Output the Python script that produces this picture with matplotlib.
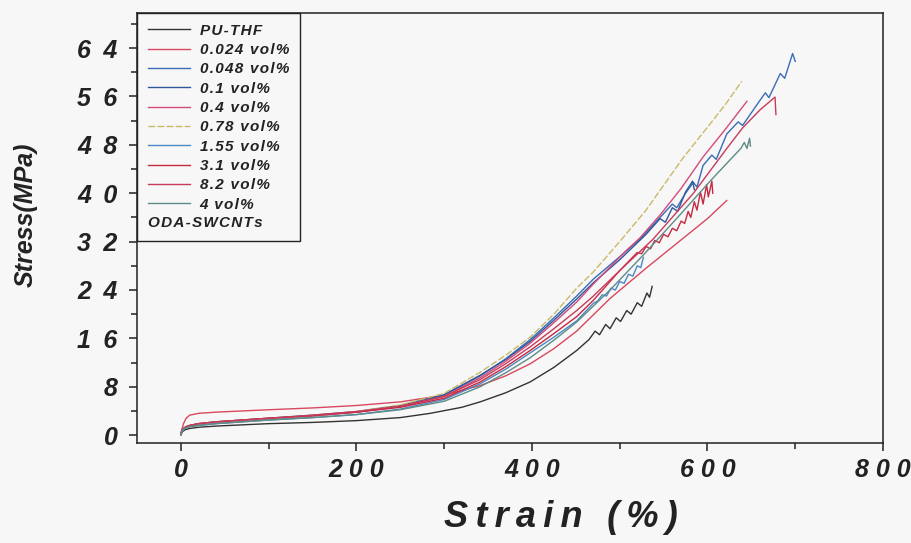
import matplotlib
matplotlib.use("Agg")
import matplotlib.pyplot as plt
from matplotlib.ticker import FixedLocator, MultipleLocator, FuncFormatter

# ---- tensile curves: strain (%) and stress (MPa) ----
labels = ["PU-THF", "0.024 vol%", "0.048 vol%", "0.1 vol%", "0.4 vol%",
          "0.78 vol%", "1.55 vol%", "3.1 vol%", "8.2 vol%", "4 vol%"]

base_strain = [0, 1, 3, 6, 10, 20, 40, 70, 100, 150, 200, 250, 300, 341, 370, 398, 425, 451]

pu_strain = [0, 2, 5, 10, 20, 40, 70, 100, 150, 200, 250, 284, 320, 341, 370, 398, 425, 451,
             465, 472, 477, 484, 489, 496, 501, 508, 513, 520, 525, 531, 534, 537]
pu_stress = [0.1, 0.6, 0.9, 1.1, 1.3, 1.5, 1.7, 1.9, 2.1, 2.4, 2.9, 3.6, 4.6, 5.5, 7.0, 8.8, 11.2, 14.0,
             15.8, 17.2, 16.6, 18.3, 17.6, 19.4, 18.8, 20.6, 20.0, 21.9, 21.3, 23.5, 22.8, 24.6]

c0024_strain = base_strain + [489, 530, 565, 600, 622]
c0024_stress = [0.1, 0.9, 1.9, 2.8, 3.3, 3.6, 3.8, 4.0, 4.2, 4.5, 4.9, 5.5, 6.6, 8.2, 9.8, 11.8, 14.3, 17.2,
                22.6, 27.6, 31.7, 35.8, 38.8]

c0048_strain = base_strain + [470, 500, 523, 546, 560, 565, 575, 584, 588, 595, 605, 610, 622, 635,
                              640, 660, 666, 670, 683, 688, 697, 700]
c0048_stress = [0.1, 0.6, 1.0, 1.3, 1.5, 1.8, 2.1, 2.4, 2.7, 3.2, 3.8, 4.8, 6.6, 9.8, 12.6, 15.8, 19.4, 23.0,
                25.8, 29.5, 32.4, 36.0, 38.2, 37.6, 40.0, 41.8, 41.0, 44.6, 46.3, 45.6, 49.8, 51.8,
                51.2, 55.4, 56.6, 55.8, 59.8, 59.0, 63.1, 61.8]

c01_strain = base_strain + [470, 500, 530, 546, 552, 560, 566, 575, 583, 585]
c01_stress = [0.1, 0.7, 1.1, 1.4, 1.6, 1.9, 2.2, 2.5, 2.8, 3.3, 3.9, 4.9, 6.7, 9.9, 12.5, 15.5, 19.0, 22.5,
              25.2, 29.0, 33.2, 35.8, 35.2, 37.6, 37.0, 40.2, 42.0, 40.6]

c04_strain = base_strain + [470, 508, 523, 546, 570, 595, 620, 645]
c04_stress = [0.1, 0.6, 1.0, 1.3, 1.5, 1.8, 2.1, 2.4, 2.7, 3.2, 3.8, 4.7, 6.4, 9.5, 12.2, 15.2, 18.6, 22.0,
              25.0, 30.6, 32.6, 36.4, 40.8, 46.0, 50.5, 55.2]

c078_strain = base_strain + [470, 500, 530, 572, 595, 620, 639]
c078_stress = [0.1, 0.6, 1.0, 1.3, 1.5, 1.8, 2.1, 2.4, 2.7, 3.2, 3.9, 5.0, 6.9, 10.4, 13.2, 16.2, 20.0, 24.3,
               27.0, 32.0, 37.2, 45.8, 50.0, 54.6, 58.5]

c155_strain = base_strain + [470, 475, 480, 485, 490, 495, 500, 505, 510, 515, 520, 524, 527]
c155_stress = [0.1, 0.6, 0.9, 1.2, 1.4, 1.6, 1.9, 2.2, 2.5, 2.9, 3.4, 4.3, 5.9, 8.5, 10.9, 13.6, 16.2, 18.9,
               21.8, 22.2, 23.2, 23.0, 24.3, 24.0, 25.4, 25.1, 26.6, 26.3, 28.0, 27.7, 29.4]

c31_strain = base_strain + [470, 500, 520, 525, 530, 535, 540, 545, 550, 555, 560, 565, 570, 574, 578,
                            581, 585, 588, 592, 595, 599, 601, 605, 606]
c31_stress = [0.1, 0.7, 1.1, 1.4, 1.6, 1.9, 2.2, 2.5, 2.8, 3.2, 3.8, 4.6, 6.1, 8.8, 11.3, 14.0, 16.8, 19.6,
              22.3, 27.2, 30.2, 30.0, 31.2, 30.8, 32.2, 31.8, 33.2, 32.8, 34.2, 33.8, 35.4, 35.0, 37.0,
              36.0, 38.6, 37.2, 40.2, 38.2, 41.4, 39.4, 42.0, 40.0]

c82_strain = base_strain + [470, 500, 538, 584, 622, 640, 660, 677, 678]
c82_stress = [0.1, 0.7, 1.1, 1.4, 1.6, 1.9, 2.2, 2.5, 2.8, 3.3, 3.9, 4.8, 6.4, 9.2, 11.8, 14.6, 17.6, 20.6,
              23.0, 27.2, 32.4, 40.0, 47.4, 50.8, 53.8, 55.9, 53.0]

c4_strain = base_strain + [489, 527, 566, 603, 625, 638, 642, 645, 648, 649]
c4_stress = [0.1, 0.6, 1.0, 1.2, 1.4, 1.6, 1.9, 2.2, 2.5, 2.9, 3.4, 4.2, 5.6, 8.0, 10.3, 12.8, 15.7, 18.7,
             24.0, 29.8, 36.0, 42.0, 45.4, 47.4, 48.4, 47.4, 49.1, 47.8]

series = [
    (pu_strain, pu_stress, "#333333", "-"),
    (c0024_strain, c0024_stress, "#d8485e", "-"),
    (c0048_strain, c0048_stress, "#3a6db5", "-"),
    (c01_strain, c01_stress, "#2f5a9a", "-"),
    (c04_strain, c04_stress, "#d24a7e", "-"),
    (c078_strain, c078_stress, "#c9b968", (0, (5, 1.5))),
    (c155_strain, c155_stress, "#4a88c4", "-"),
    (c31_strain, c31_stress, "#c62a40", "-"),
    (c82_strain, c82_stress, "#c83a5c", "-"),
    (c4_strain, c4_stress, "#5e8c86", "-"),
]

xticks = [0, 200, 400, 600, 800]
yticks = [0, 8, 16, 24, 32, 40, 48, 56, 64]

FAM = ["Liberation Sans", "DejaVu Sans"]
BG = "#f7f7f7"
INK = "#222222"


def spaced(text, gap="\u2009"):
    return gap.join(text)


fig = plt.figure(figsize=(9.12, 5.43), dpi=100, facecolor=BG)
ax = fig.add_axes([137 / 912, 1 - 443 / 543, (883 - 137) / 912, (443 - 13) / 543])
ax.set_facecolor(BG)

handles = []
for (sx, sy, col, ls), lab in zip(series, labels):
    h, = ax.plot(sx, sy, color=col, lw=1.0, ls=ls, label=spaced(lab, "\u200a"))
    handles.append(h)

ax.set_xlim(-50, 800)
ax.set_ylim(-1.3, 69.8)

ax.xaxis.set_major_locator(FixedLocator(xticks))
ax.xaxis.set_minor_locator(MultipleLocator(100))
ax.yaxis.set_major_locator(FixedLocator(yticks))
ax.yaxis.set_minor_locator(MultipleLocator(4))
ax.xaxis.set_major_formatter(FuncFormatter(lambda v, p: spaced(str(int(round(v))), " ")))
ax.yaxis.set_major_formatter(FuncFormatter(lambda v, p: spaced(str(int(round(v))), "\u2002")))

ax.tick_params(which="both", direction="out", top=False, right=False, width=1.1, color=INK)
ax.tick_params(which="major", length=6)
ax.tick_params(axis="x", which="major", pad=5)
ax.tick_params(axis="y", which="major", pad=8)
ax.tick_params(which="minor", length=4)
for lab in ax.get_xticklabels() + ax.get_yticklabels():
    lab.set_fontfamily(FAM)
    lab.set_fontsize(18)
    lab.set_fontweight("bold")
    lab.set_fontstyle("italic")
    lab.set_color(INK)

for sp in ax.spines.values():
    sp.set_linewidth(1.1)
    sp.set_color(INK)

ax.set_xlabel(spaced("Strain (%)"), family=FAM, fontsize=26, fontweight="bold",
              fontstyle="italic", color=INK)
ax.xaxis.set_label_coords((561 - 137) / 746, (443 - 500) / 430)
ax.set_ylabel("Stress(MPa)", family=FAM, fontsize=18, fontweight="bold",
              fontstyle="italic", color=INK)
ax.yaxis.set_label_coords((38 - 137) / 746, (443 - 215) / 430)

leg = ax.legend(handles=handles, loc="upper left", bbox_to_anchor=(0, 1), borderaxespad=0,
                frameon=True, fancybox=False, framealpha=1, edgecolor=INK,
                facecolor=BG, handlelength=2.8, handletextpad=0.6, labelspacing=0.35,
                borderpad=0.7, title=spaced("ODA-SWCNTs", "\u200a"), alignment="left",
                prop=dict(family=FAM, size=11, weight="bold", style="italic"),
                title_fontproperties=dict(family=FAM, size=11, weight="bold", style="italic"))
leg.get_frame().set_linewidth(1.0)
for t in leg.get_texts():
    t.set_color(INK)
leg.get_title().set_color(INK)
# put the group name below the entries
leg._legend_box._children = leg._legend_box._children[::-1]
leg._legend_box.sep = 3

fig.savefig("out.png", dpi=100, facecolor=BG)
